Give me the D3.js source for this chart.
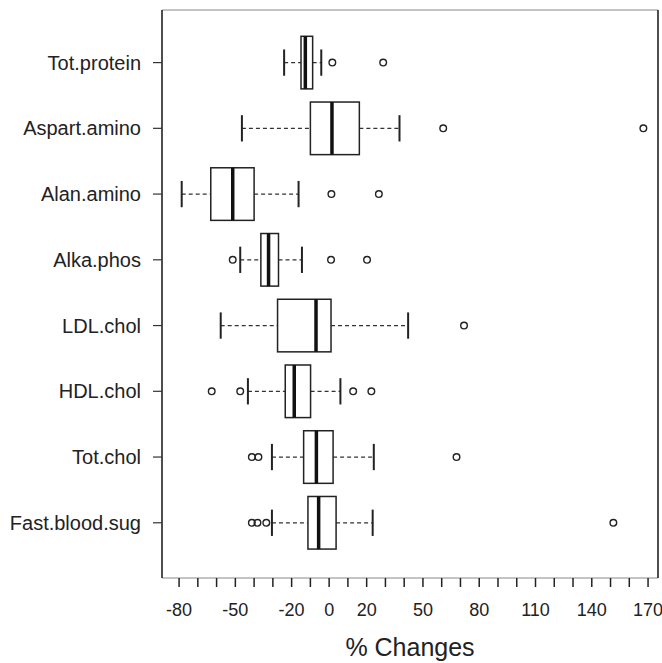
<!DOCTYPE html>
<html>
<head>
<meta charset="utf-8">
<script src="https://cdn.jsdelivr.net/npm/d3@7"></script>
<style>
  body { margin: 0; background: #fff; }
  text { font-family: "Liberation Sans", Arial, sans-serif; fill: #222; }
</style>
</head>
<body>
<svg id="chart" width="662" height="663"></svg>
<script>
// variables, top to bottom
const labels = ["Tot.protein", "Aspart.amino", "Alan.amino", "Alka.phos",
                "LDL.chol", "HDL.chol", "Tot.chol", "Fast.blood.sug"];

// five-number summaries: [lowWhisker, q1, median, q3, highWhisker]
const stats = [
  [-24, -15, -12.7, -8.8, -4.2],
  [-46.5, -10, 1.5, 16.1, 37.5],
  [-78.6, -63.1, -51.4, -40, -16.3],
  [-47.4, -36.4, -32.3, -27, -14.5],
  [-57.8, -27.5, -7, 1, 42.1],
  [-43.3, -23.4, -18.6, -9.9, 6],
  [-30.5, -13.6, -6.8, 2.1, 23.8],
  [-30.5, -11.3, -5.6, 3.7, 23.2]
];

const outliers = [
  [1.7, 28.8],
  [60.8, 167.5],
  [1.2, 26.5],
  [-51.4, 1, 20.2],
  [71.9],
  [-62.6, -47.4, 12.8, 22.5],
  [-41.2, -37.7, 67.9],
  [-41.2, -38.2, -33.5, 151.5]
];

const minorTicks = d3.range(-80, 171, 10);
const labelTicks = [-80, -50, -20, 0, 20, 50, 80, 110, 140, 170];

const svg = d3.select("#chart");
const plotL = 162, plotR = 658, plotT = 10, plotB = 578;

const x = d3.scaleLinear().domain([-89.1, 175.3]).range([plotL, plotR]);
// R puts the first group at the bottom: row 1 = Fast.blood.sug
const y = d3.scaleLinear().domain([0.16, 8.8]).range([plotB, plotT]);
const rowY = i => y(labels.length - i);
const half = (y(0) - y(0.4));

// plot frame
svg.append("line").attr("x1", plotL).attr("x2", plotR).attr("y1", plotT).attr("y2", plotT)
  .attr("stroke", "#888").attr("stroke-width", 1);
svg.append("line").attr("x1", plotL).attr("x2", plotR).attr("y1", plotB).attr("y2", plotB)
  .attr("stroke", "#888").attr("stroke-width", 1);
svg.append("line").attr("x1", plotL).attr("x2", plotL).attr("y1", plotT).attr("y2", plotB)
  .attr("stroke", "#222").attr("stroke-width", 1.6);
svg.append("line").attr("x1", plotR).attr("x2", plotR).attr("y1", plotT).attr("y2", plotB)
  .attr("stroke", "#222").attr("stroke-width", 1.6);

const g = svg.selectAll("g.row")
  .data(stats)
  .enter()
  .append("g")
  .attr("class", "row")
  .attr("transform", (d, i) => `translate(0,${rowY(i)})`);

// whiskers
g.append("line")
  .attr("x1", d => x(d[0])).attr("x2", d => x(d[1]))
  .attr("stroke", "#333").attr("stroke-width", 1.2).attr("stroke-dasharray", "4,3");
g.append("line")
  .attr("x1", d => x(d[3])).attr("x2", d => x(d[4]))
  .attr("stroke", "#333").attr("stroke-width", 1.2).attr("stroke-dasharray", "4,3");

// caps
[0, 4].forEach(k => {
  g.append("line")
    .attr("x1", d => x(d[k])).attr("x2", d => x(d[k]))
    .attr("y1", -half / 2).attr("y2", half / 2)
    .attr("stroke", "#222").attr("stroke-width", 2);
});

// boxes
g.append("rect")
  .attr("x", d => x(d[1]))
  .attr("width", d => x(d[3]) - x(d[1]))
  .attr("y", -half).attr("height", 2 * half)
  .attr("fill", "#fff").attr("stroke", "#222").attr("stroke-width", 1.5);

// medians
g.append("line")
  .attr("x1", d => x(d[2])).attr("x2", d => x(d[2]))
  .attr("y1", -half).attr("y2", half)
  .attr("stroke", "#111").attr("stroke-width", 3.5);

// outliers
g.each(function(d, i) {
  d3.select(this).selectAll("circle")
    .data(outliers[i])
    .enter()
    .append("circle")
    .attr("cx", v => x(v)).attr("cy", 0).attr("r", 3.3)
    .attr("fill", "none").attr("stroke", "#222").attr("stroke-width", 1.4);
});

// y axis
const yAxis = svg.append("g");
labels.forEach((name, i) => {
  yAxis.append("line").attr("x1", plotL - 9).attr("x2", plotL)
    .attr("y1", rowY(i)).attr("y2", rowY(i)).attr("stroke", "#333").attr("stroke-width", 1.2);
  yAxis.append("text").attr("x", plotL - 21).attr("y", rowY(i))
    .attr("dy", "0.35em").attr("text-anchor", "end").attr("font-size", "20px").text(name);
});

// x axis
const xAxis = svg.append("g");
xAxis.selectAll("line.tick")
  .data(minorTicks)
  .enter()
  .append("line")
  .attr("class", "tick")
  .attr("x1", d => x(d)).attr("x2", d => x(d))
  .attr("y1", plotB).attr("y2", plotB + 9)
  .attr("stroke", "#222").attr("stroke-width", 1.5);
xAxis.selectAll("text")
  .data(labelTicks)
  .enter()
  .append("text")
  .attr("x", d => x(d)).attr("y", 616)
  .attr("text-anchor", "middle").attr("font-size", "18px")
  .text(d => d);

svg.append("text").attr("x", (plotL + plotR) / 2).attr("y", 656)
  .attr("text-anchor", "middle").attr("font-size", "25px").text("% Changes");
</script>
</body>
</html>
